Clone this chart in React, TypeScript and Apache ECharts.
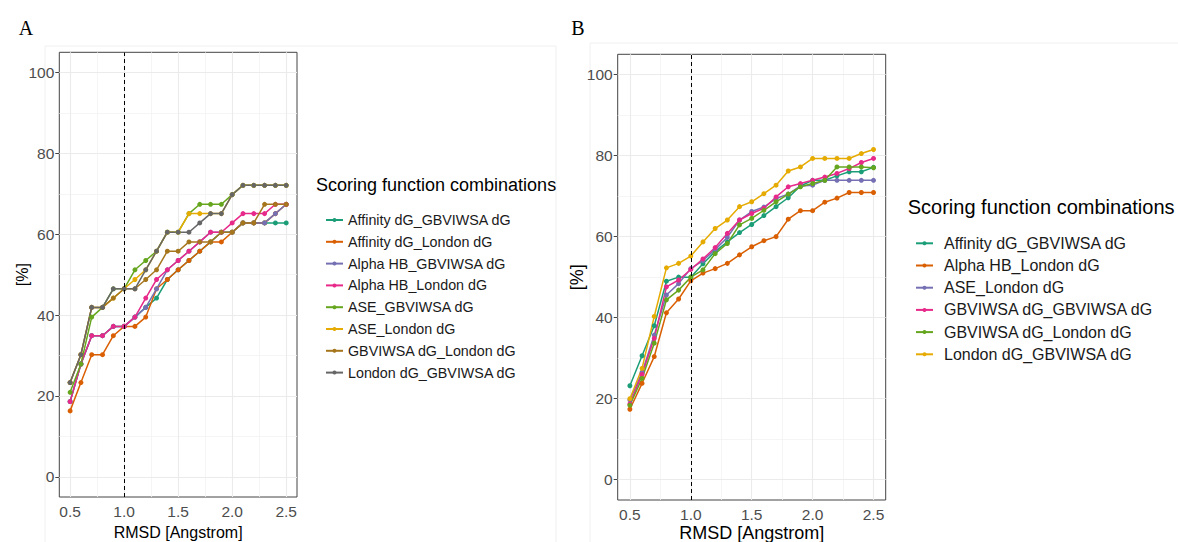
import React, { useEffect, useRef } from "react";
import * as echarts from "echarts";

// ---------- shared axes ----------
const rmsd = [0.5, 0.6, 0.7, 0.8, 0.9, 1.0, 1.1, 1.2, 1.3, 1.4, 1.5, 1.6, 1.7, 1.8, 1.9, 2.0, 2.1, 2.2, 2.3, 2.4, 2.5];
const xTicks = [0.5, 1.0, 1.5, 2.0, 2.5];
const xMinor = [0.75, 1.25, 1.75, 2.25];
const yTicks = [0, 20, 40, 60, 80, 100];
const yMinor = [10, 30, 50, 70, 90];
const cutoff = 1.0;

const legendTitle = "Scoring function combinations";
const xTitle = "RMSD [Angstrom]";
const yTitle = "[%]";

// ---------- panel A ----------
const namesA = [
  "Affinity dG_GBVIWSA dG",
  "Affinity dG_London dG",
  "Alpha HB_GBVIWSA dG",
  "Alpha HB_London dG",
  "ASE_GBVIWSA dG",
  "ASE_London dG",
  "GBVIWSA dG_London dG",
  "London dG_GBVIWSA dG",
];
const colorsA = ["#1B9E77", "#D95F02", "#7570B3", "#E7298A", "#66A61E", "#E6AB02", "#A6761D", "#666666"];
const aAffinityGB = [18.6, 27.9, 34.9, 34.9, 37.2, 37.2, 39.5, 41.9, 44.2, 48.8, 51.2, 53.5, 55.8, 58.1, 60.5, 60.5, 62.8, 62.8, 62.8, 62.8, 62.8];
const aAffinityLo = [16.3, 23.3, 30.2, 30.2, 34.9, 37.2, 37.2, 39.5, 46.5, 48.8, 51.2, 53.5, 55.8, 58.1, 58.1, 60.5, 62.8, 62.8, 62.8, 65.1, 67.4];
const aAlphaGB = [18.6, 27.9, 34.9, 34.9, 37.2, 37.2, 39.5, 41.9, 46.5, 51.2, 53.5, 55.8, 58.1, 60.5, 60.5, 60.5, 62.8, 62.8, 62.8, 65.1, 67.4];
const aAlphaLo = [18.6, 27.9, 34.9, 34.9, 37.2, 37.2, 39.5, 44.2, 48.8, 51.2, 53.5, 55.8, 58.1, 60.5, 60.5, 62.8, 65.1, 65.1, 65.1, 67.4, 67.4];
const aAseGB = [20.9, 27.9, 39.5, 41.9, 46.5, 46.5, 51.2, 53.5, 55.8, 60.5, 60.5, 65.1, 67.4, 67.4, 67.4, 69.8, 72.1, 72.1, 72.1, 72.1, 72.1];
const aAseLo = [23.3, 30.2, 41.9, 41.9, 44.2, 46.5, 48.8, 51.2, 55.8, 60.5, 60.5, 65.1, 65.1, 65.1, 65.1, 69.8, 72.1, 72.1, 72.1, 72.1, 72.1];
const aGbLo = [23.3, 30.2, 41.9, 41.9, 44.2, 46.5, 46.5, 48.8, 51.2, 55.8, 55.8, 58.1, 58.1, 58.1, 60.5, 60.5, 62.8, 62.8, 67.4, 67.4, 67.4];
const aLoGB = [23.3, 30.2, 41.9, 41.9, 46.5, 46.5, 46.5, 51.2, 55.8, 60.5, 60.5, 60.5, 62.8, 65.1, 65.1, 69.8, 72.1, 72.1, 72.1, 72.1, 72.1];
const valuesA = [aAffinityGB, aAffinityLo, aAlphaGB, aAlphaLo, aAseGB, aAseLo, aGbLo, aLoGB];

// ---------- panel B ----------
const namesB = [
  "Affinity dG_GBVIWSA dG",
  "Alpha HB_London dG",
  "ASE_London dG",
  "GBVIWSA dG_GBVIWSA dG",
  "GBVIWSA dG_London dG",
  "London dG_GBVIWSA dG",
];
const colorsB = ["#1B9E77", "#D95F02", "#7570B3", "#E7298A", "#66A61E", "#E6AB02"];
const bAffinityGB = [23.2, 30.6, 38.0, 49.0, 50.0, 50.0, 53.3, 56.3, 58.7, 61.0, 63.0, 65.2, 67.4, 69.6, 72.5, 73.9, 73.9, 75.0, 76.0, 76.0, 77.1];
const bAlphaLo = [17.4, 23.8, 30.4, 41.2, 44.6, 49.1, 51.0, 52.1, 53.4, 55.5, 57.5, 59.0, 60.0, 64.3, 66.4, 66.4, 68.5, 69.5, 70.9, 70.9, 70.9];
const bAseLo = [19.7, 26.5, 35.7, 45.6, 48.4, 52.1, 54.1, 56.8, 59.8, 64.1, 66.2, 67.3, 69.4, 70.5, 72.5, 72.7, 73.9, 73.9, 73.9, 73.9, 73.9];
const bGbGB = [18.7, 26.0, 34.9, 47.6, 49.3, 51.9, 54.5, 57.3, 60.8, 64.1, 65.7, 67.0, 69.8, 72.3, 73.1, 73.9, 74.7, 75.6, 76.8, 78.3, 79.3];
const bGbLo = [18.4, 25.0, 33.7, 44.4, 46.8, 50.0, 51.8, 55.8, 58.3, 62.9, 64.5, 66.5, 68.6, 70.5, 72.3, 73.1, 73.9, 77.2, 77.2, 77.2, 77.0];
const bLoGB = [20.0, 27.5, 40.3, 52.3, 53.4, 55.2, 58.7, 62.0, 64.1, 67.4, 68.6, 70.6, 72.7, 76.2, 77.2, 79.3, 79.3, 79.3, 79.3, 80.5, 81.5];
const valuesB = [bAffinityGB, bAlphaLo, bAseLo, bGbGB, bGbLo, bLoGB];

const FONT = "Liberation Sans, Arial, Helvetica, sans-serif";
const SERIF = "Liberation Serif, DejaVu Serif, serif";

type PanelCfg = {
  label: string;
  labelX: number;
  grid: { left: number; top: number; width: number; height: number };
  names: string[];
  colors: string[];
  values: number[][];
  legendLeft: number;
  legendTop: number;
  legendLine: number;
  legendFont: number;
  legendPad: number;
  legendTitleX: number;
  legendTitleY: number;
  legendTitleFont: number;
  yTitleX: number;
  xTitleY: number;
  titleFont: number;
  frame: { x: number; y: number; w: number; h: number };
};

function buildOption(c: PanelCfg) {
  const g = c.grid;
  const gridLines = [
    ...yMinor.map((v) => ({ yAxis: v, lineStyle: { color: "#f3f3f3", width: 0.8, type: "solid" } })),
    ...xMinor.map((v) => ({ xAxis: v, lineStyle: { color: "#f3f3f3", width: 0.8, type: "solid" } })),
    ...yTicks.map((v) => ({ yAxis: v, lineStyle: { color: "#ebebeb", width: 1.1, type: "solid" } })),
    ...xTicks.map((v) => ({ xAxis: v, lineStyle: { color: "#ebebeb", width: 1.1, type: "solid" } })),
  ];
  const series: any[] = [
    {
      type: "line",
      data: [],
      silent: true,
      z: 1,
      markLine: {
        silent: true,
        symbol: "none",
        z: 1,
        label: { show: false },
        emphasis: { disabled: true },
        data: gridLines,
      },
    },
  ];
  c.names.forEach((n, i) => {
    series.push({
      type: "line",
      name: n,
      z: 3,
      data: rmsd.map((x, j) => [x, c.values[i][j]]),
      symbol: "circle",
      symbolSize: 5,
      showSymbol: true,
      itemStyle: { color: c.colors[i] },
      lineStyle: { color: c.colors[i], width: 1.5 },
      emphasis: { disabled: true },
    });
  });
  series.push({
    type: "line",
    data: [],
    silent: true,
    z: 4,
    markLine: {
      silent: true,
      symbol: "none",
      z: 4,
      label: { show: false },
      emphasis: { disabled: true },
      data: [{ xAxis: cutoff, lineStyle: { color: "#000", width: 1, type: [4, 3] } }],
    },
  });

  return {
    animation: false,
    grid: {
      left: g.left,
      top: g.top,
      width: g.width,
      height: g.height,
      show: true,
      borderColor: "#444",
      borderWidth: 1,
      backgroundColor: "transparent",
    },
    xAxis: {
      type: "value",
      min: 0.4,
      max: 2.6,
      axisLine: { show: false },
      axisTick: { show: true, length: 4, customValues: xTicks, lineStyle: { color: "#444" } },
      axisLabel: {
        customValues: xTicks,
        formatter: (v: number) => v.toFixed(1),
        margin: 6,
        fontSize: 15.5,
        color: "#4d4d4d",
        fontFamily: FONT,
      },
      splitLine: { show: false },
    },
    yAxis: {
      type: "value",
      min: -5,
      max: 105,
      axisLine: { show: false },
      axisTick: { show: true, length: 4, customValues: yTicks, lineStyle: { color: "#444" } },
      axisLabel: {
        customValues: yTicks,
        margin: 5,
        fontSize: 15.5,
        color: "#4d4d4d",
        fontFamily: FONT,
      },
      splitLine: { show: false },
    },
    legend: {
      data: c.names,
      orient: "vertical",
      left: c.legendLeft,
      top: c.legendTop,
      itemWidth: 17,
      itemHeight: 5,
      itemGap: 0,
      selectedMode: false,
      textStyle: {
        fontSize: c.legendFont,
        lineHeight: c.legendLine,
        color: "#1a1a1a",
        fontFamily: FONT,
        padding: [0, 0, 0, c.legendPad],
      },
    },
    graphic: [
      {
        type: "rect",
        silent: true,
        z: -10,
        shape: { x: c.frame.x, y: c.frame.y, width: c.frame.w, height: c.frame.h },
        style: { fill: "none", stroke: "#f0f0f0", lineWidth: 1 },
      },
      {
        type: "text",
        x: c.labelX,
        y: 28,
        style: { text: c.label, font: `20px ${SERIF}`, fill: "#000", align: "center", verticalAlign: "middle" },
      },
      {
        type: "text",
        x: c.yTitleX,
        y: g.top + g.height / 2,
        rotation: Math.PI / 2,
        style: { text: yTitle, font: `${c.titleFont}px ${FONT}`, fill: "#000", align: "center", verticalAlign: "middle" },
      },
      {
        type: "text",
        x: g.left + g.width / 2,
        y: c.xTitleY,
        style: { text: xTitle, font: `${c.titleFont}px ${FONT}`, fill: "#000", align: "center", verticalAlign: "middle" },
      },
      {
        type: "text",
        x: c.legendTitleX,
        y: c.legendTitleY,
        style: {
          text: legendTitle,
          font: `${c.legendTitleFont}px ${FONT}`,
          fill: "#000",
          align: "left",
          verticalAlign: "middle",
        },
      },
    ],
    series,
  };
}

const panelA: PanelCfg = {
  label: "A",
  labelX: 26,
  grid: { left: 59.3, top: 52.3, width: 237.7, height: 444.7 },
  names: namesA,
  colors: colorsA,
  values: valuesA,
  legendLeft: 320,
  legendTop: 204.1,
  legendLine: 21.8,
  legendFont: 14.3,
  legendPad: 0,
  legendTitleX: 316,
  legendTitleY: 185,
  legendTitleFont: 18,
  yTitleX: 22,
  xTitleY: 532,
  titleFont: 16,
  frame: { x: 45, y: 46, w: 511, h: 505 },
};

const panelB: PanelCfg = {
  label: "B",
  labelX: 578,
  grid: { left: 617.7, top: 54.3, width: 268, height: 445.7 },
  names: namesB,
  colors: colorsB,
  values: valuesB,
  legendLeft: 910,
  legendTop: 227.2,
  legendLine: 22.2,
  legendFont: 16,
  legendPad: 6,
  legendTitleX: 907.7,
  legendTitleY: 206.7,
  legendTitleFont: 20,
  yTitleX: 577,
  xTitleY: 533,
  titleFont: 18,
  frame: { x: 590, y: 43, w: 600, h: 510 },
};

function Panel({ cfg }: { cfg: PanelCfg }) {
  const ref = useRef<HTMLDivElement>(null);
  useEffect(() => {
    if (!ref.current) return;
    const chart = echarts.init(ref.current, undefined, { renderer: "svg" });
    chart.setOption(buildOption(cfg) as any);
    return () => chart.dispose();
  }, [cfg]);
  return <div ref={ref} style={{ position: "absolute", left: 0, top: 0, width: 1178, height: 542 }} />;
}

export default function App() {
  return (
    <div style={{ position: "fixed", left: 0, top: 0, width: 1178, height: 542, background: "#fff", overflow: "hidden" }}>
      <Panel cfg={panelA} />
      <Panel cfg={panelB} />
    </div>
  );
}
